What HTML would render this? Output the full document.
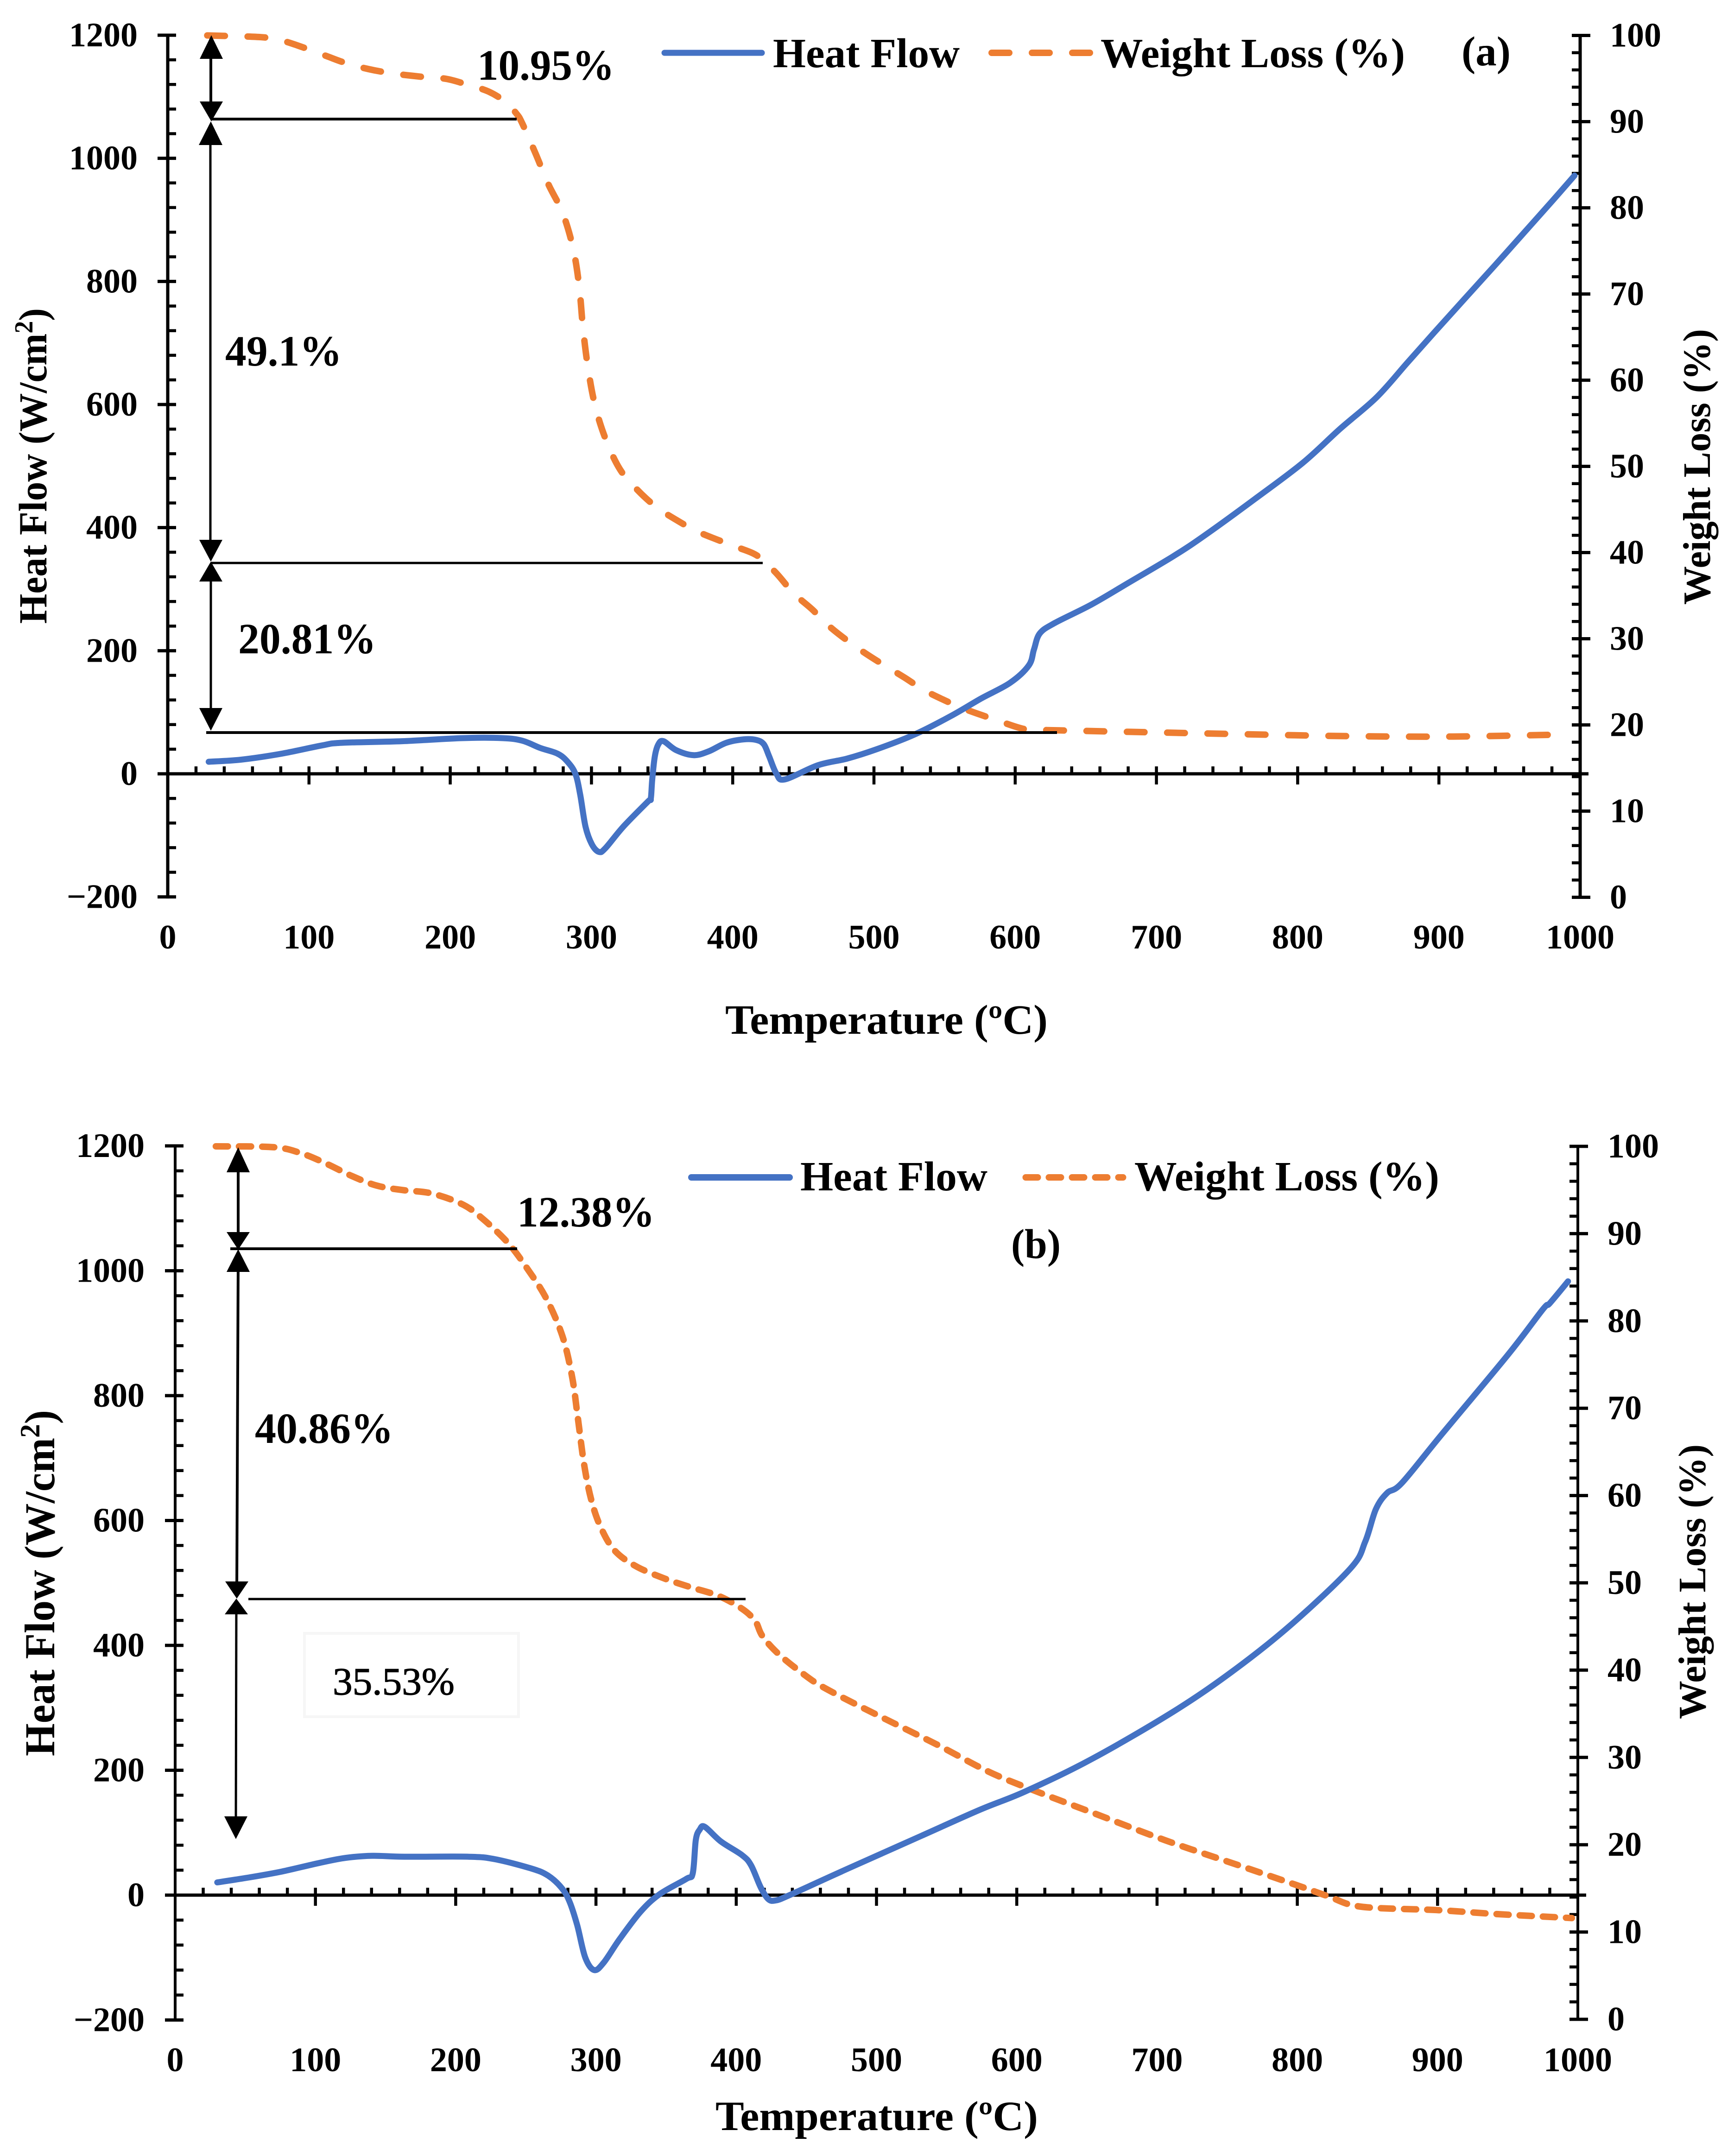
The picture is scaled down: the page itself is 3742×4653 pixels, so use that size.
<!DOCTYPE html>
<html lang="en">
<head>
<meta charset="utf-8">
<title>Heat Flow and Weight Loss vs Temperature</title>
<style>
  html, body { margin: 0; padding: 0; background: #ffffff; }
  svg { display: block; }
  text { font-family: "Liberation Serif", "Times New Roman", serif; font-weight: bold; fill: #000; }
  .tick { font-size: 74px; }
  .lbl { font-size: 90px; }
  .pct { font-size: 93px; }
</style>
</head>
<body>
<svg id="figure" xmlns="http://www.w3.org/2000/svg" width="3742" height="4653" viewBox="0 0 3742 4653">
  <rect x="0" y="0" width="3742" height="4653" fill="#ffffff"/>

  <g id="panel-a">
    <g id="axes-a"></g>
    <g id="series-a"></g>

    <g stroke="#000" stroke-width="6">
      <line x1="455" y1="100" x2="455" y2="240"/>
      <polygon points="456,76 431,127 481,127" stroke="none"/>
      <polygon points="456,262 431,219 481,219" stroke="none"/>
      <line x1="456" y1="257" x2="1115" y2="257"/>
      <line x1="454" y1="290" x2="454" y2="1190" stroke-width="5"/>
      <polygon points="455,262 429,313 480,313" stroke="none"/>
      <polygon points="455,1212 430,1165 480,1165" stroke="none"/>
      <line x1="455" y1="1215" x2="1646" y2="1215" stroke-width="5"/>
      <line x1="455" y1="1240" x2="455" y2="1540" stroke-width="5"/>
      <polygon points="455,1212 430,1255 480,1255" stroke="none"/>
      <polygon points="455,1577 430,1528 480,1528" stroke="none"/>
      <line x1="445" y1="1581" x2="2281" y2="1581"/>
    </g>

    <text class="pct" x="1030" y="172" textLength="296" lengthAdjust="spacingAndGlyphs">10.95%</text>
    <text class="pct" x="486" y="789" textLength="252" lengthAdjust="spacingAndGlyphs">49.1%</text>
    <text class="pct" x="514" y="1410" textLength="298" lengthAdjust="spacingAndGlyphs">20.81%</text>

    <g>
      <line x1="1434" y1="114" x2="1644" y2="114" stroke="#4472c4" stroke-width="13" stroke-linecap="round"/>
      <text class="lbl" x="1668" y="145" textLength="403" lengthAdjust="spacingAndGlyphs">Heat Flow</text>
      <line x1="2140" y1="114" x2="2352" y2="114" stroke="#ed7d31" stroke-width="14" stroke-linecap="round" stroke-dasharray="38 49"/>
      <text class="lbl" x="2375" y="145" textLength="657" lengthAdjust="spacingAndGlyphs">Weight Loss (%)</text>
    </g>
    <text class="lbl" x="3154" y="141" textLength="106" lengthAdjust="spacingAndGlyphs">(a)</text>

    <text class="lbl" x="1565" y="2231" textLength="696" lengthAdjust="spacingAndGlyphs">Temperature (ºC)</text>
    <text class="lbl" transform="translate(100,1346) rotate(-90)" style="font-size:86px" textLength="681" lengthAdjust="spacingAndGlyphs">Heat Flow (W/cm<tspan dy="-30" style="font-size:56px">2</tspan><tspan dy="30">)</tspan></text>
    <text class="lbl" transform="translate(3690,1305) rotate(-90)" style="font-size:84px" textLength="595" lengthAdjust="spacingAndGlyphs">Weight Loss (%)</text>
  </g>

  <g id="panel-b">
    <g id="axes-b"></g>
    <g id="series-b"></g>

    <g stroke="#000" stroke-width="6">
      <line x1="514" y1="2500" x2="514" y2="2680"/>
      <polygon points="514,2476 489,2530 539,2530" stroke="none"/>
      <polygon points="514,2697 489,2659 539,2659" stroke="none"/>
      <line x1="497" y1="2695" x2="1116" y2="2695"/>
      <line x1="514" y1="2720" x2="511" y2="3430"/>
      <polygon points="514,2696 489,2745 539,2745" stroke="none"/>
      <polygon points="511,3450 486,3413 536,3413" stroke="none"/>
      <line x1="536" y1="3451" x2="1609" y2="3451" stroke-width="5"/>
      <line x1="510" y1="3470" x2="509" y2="3930" stroke-width="5"/>
      <polygon points="510,3450 485,3484 535,3484" stroke="none"/>
      <polygon points="509,3969 484,3920 534,3920" stroke="none"/>
    </g>

    <rect x="657" y="3525" width="462" height="180" fill="none" stroke="#f6f6f6" stroke-width="6"/>
    <text x="718" y="3657" style="font-size:84px;font-weight:normal;stroke:#000;stroke-width:1.2px" textLength="263" lengthAdjust="spacingAndGlyphs">35.53%</text>
    <text class="pct" x="1116" y="2647" textLength="297" lengthAdjust="spacingAndGlyphs">12.38%</text>
    <text class="pct" x="550" y="3114" textLength="299" lengthAdjust="spacingAndGlyphs">40.86%</text>

    <g>
      <line x1="1492" y1="2541" x2="1704" y2="2541" stroke="#4472c4" stroke-width="14" stroke-linecap="round"/>
      <text class="lbl" x="1727" y="2569" textLength="404" lengthAdjust="spacingAndGlyphs">Heat Flow</text>
      <line x1="2213.5" y1="2541" x2="2423.5" y2="2541" stroke="#ed7d31" stroke-width="14" stroke-linecap="round" stroke-dasharray="26 24"/>
      <text class="lbl" x="2448" y="2569" textLength="658" lengthAdjust="spacingAndGlyphs">Weight Loss (%)</text>
    </g>
    <text class="lbl" x="2182" y="2715" textLength="107" lengthAdjust="spacingAndGlyphs">(b)</text>

    <text class="lbl" x="1544" y="4597" textLength="696" lengthAdjust="spacingAndGlyphs">Temperature (ºC)</text>
    <text class="lbl" transform="translate(117,3790) rotate(-90)" style="font-size:92px" textLength="747" lengthAdjust="spacingAndGlyphs">Heat Flow (W/cm<tspan dy="-32" style="font-size:60px">2</tspan><tspan dy="32">)</tspan></text>
    <text class="lbl" transform="translate(3680,3710) rotate(-90)" style="font-size:84px" textLength="593" lengthAdjust="spacingAndGlyphs">Weight Loss (%)</text>
  </g>
</svg>

<script>
// Tick labels
const tempTicks = [0, 100, 200, 300, 400, 500, 600, 700, 800, 900, 1000];
const heatTicks = [-200, 0, 200, 400, 600, 800, 1000, 1200];
const weightTicks = [0, 10, 20, 30, 40, 50, 60, 70, 80, 90, 100];

// Panel (a) heat flow
const heatTempA = [29, 52, 80.5, 109, 123, 166, 208.6, 237, 251, 263.7, 276, 283, 288.6, 292, 295.8, 300.4, 305.4, 310, 322.5, 340, 342, 343, 344.9, 347.4, 351, 360, 372.3, 383, 395.4, 407.9, 416.7, 422, 425.7, 431, 437, 460.4, 481, 502, 528.5, 554.6, 575.6, 596.5, 609.6, 613.3, 617.4, 628, 654, 680, 711.6, 734, 770, 803.5, 829.8, 856, 877.7, 896.7, 918.3, 939.6, 961, 980, 996];
const heatValA = [19.6, 23, 32.7, 46, 50.4, 53, 58, 58, 53.8, 42, 32.7, 19.7, 0, -33.5, -86, -115, -127, -120.5, -86, -45, -40.5, -9.5, 29, 48, 53, 38.4, 30.3, 36.5, 50.4, 56, 55, 48, 29, 0, -9, 14, 24.7, 40, 63.6, 94, 122, 148, 176, 202, 228, 245, 275, 310, 353, 387, 447, 505, 560, 612, 668, 717, 772, 826, 881, 930, 972];

// Panel (a) weight loss
const weightTempA = [28, 66, 81, 96, 112.5, 126, 142, 159, 180, 197, 212, 227, 239, 247, 251, 260.4, 269.6, 279.6, 287, 291.3, 293.9, 297.3, 302.2, 309.7, 320, 332.3, 345.8, 359.9, 374.2, 389, 403.5, 417.7, 430.3, 443, 456.3, 468, 481, 494, 507.5, 521.6, 534.8, 549.5, 565, 586, 607, 622.7, 680, 753.6, 837, 910, 993];
const weightValA = [100, 99.8, 99.4, 98.6, 97.6, 96.8, 96.1, 95.6, 95.2, 94.97, 94.3, 93.5, 92.3, 90.9, 89.8, 86.3, 82.7, 79.4, 75.3, 70.9, 66.2, 61.7, 57.3, 53.3, 49.7, 47.3, 45.3, 43.8, 42.5, 41.5, 40.6, 39.6, 37.7, 35.3, 33.4, 31.5, 29.8, 28.3, 26.9, 25.5, 24.1, 22.9, 21.8, 20.6, 19.5, 19.4, 19.2, 18.95, 18.7, 18.65, 18.9];

// Panel (b) heat flow
const heatTempB = [30, 53.4, 76, 102.7, 121.6, 140.6, 163.4, 209, 228, 254.4, 265.8, 275.3, 281, 286.6, 292.3, 298.7, 305.6, 317, 332, 345.4, 364.4, 369, 371.2, 374, 377.6, 389, 404.2, 410.6, 417.5, 423, 428, 436.5, 469.8, 484.6, 532, 574, 606, 653.5, 711, 753.5, 795.5, 837.8, 848.4, 856, 864, 874.5, 903, 950, 975, 980, 993];
const heatValB = [20.4, 28.6, 37.8, 51.5, 59.7, 63, 61.5, 61.5, 57.5, 42.3, 31.3, 12.2, -9.6, -47.8, -99.6, -120, -107.8, -70, -26, 1.5, 26, 35, 88.6, 105, 109.4, 86, 64, 47.7, 12.2, -6.7, -8.5, -1.5, 32.5, 47.5, 95, 137, 166, 218, 293, 358, 433, 523, 566, 618, 644, 660, 738, 865, 938, 948, 983];

// Panel (b) weight loss
const weightTempB = [29, 70.4, 90, 108, 126, 143.8, 161.8, 183, 205.5, 220.7, 237.5, 251, 264.5, 276, 283, 287, 291.4, 296.5, 303.3, 313.3, 328.5, 348.8, 367.4, 387.5, 404.4, 413.6, 418.7, 430.5, 450, 463.7, 495, 542.7, 579.5, 611, 653.5, 706, 759, 800.8, 822, 845.6, 901, 943, 995.7];
const weightValB = [100, 99.9, 99.2, 98, 96.6, 95.5, 95, 94.6, 93.3, 91.5, 88.9, 86, 82.6, 78.3, 73.6, 69, 63.7, 59.6, 56.4, 53.7, 51.9, 50.5, 49.5, 48.5, 47, 45.6, 43.9, 41.8, 39.3, 37.9, 35.3, 31.5, 28.4, 26.3, 23.7, 20.5, 17.6, 15.3, 14.1, 12.9, 12.5, 12.05, 11.6];

const NS = 'http://www.w3.org/2000/svg';

function linear(d0, d1, r0, r1) {
  return function (v) { return r0 + (v - d0) * (r1 - r0) / (d1 - d0); };
}

function make(parent, tag, name, props) {
  const el = document.createElementNS(NS, tag);
  
  
  for (const k in props) el.setAttribute(k, props[k]);
  parent.appendChild(el);
  return el;
}

function seg(parent, name, x1, y1, x2, y2, w) {
  return make(parent, 'line', name, { x1: x1, y1: y1, x2: x2, y2: y2, stroke: '#000', 'stroke-width': w });
}

function label(parent, name, str, x, y, anchor) {
  const t = make(parent, 'text', name, { x: x, y: y, 'text-anchor': anchor });
  t.setAttribute('class', 'tick');
  t.textContent = String(str).replace('-', '\u2212');
  return t;
}

// Smooth line through the data points (Catmull-Rom to cubic Bezier)
function smoothPath(xs, ys, xFn, yFn) {
  const p = xs.map(function (x, i) { return [xFn(x), yFn(ys[i])]; });
  let d = 'M' + p[0][0].toFixed(1) + ' ' + p[0][1].toFixed(1);
  for (let i = 0; i < p.length - 1; i++) {
    const a = p[Math.max(i - 1, 0)], b = p[i], c = p[i + 1], e = p[Math.min(i + 2, p.length - 1)];
    const c1x = b[0] + (c[0] - a[0]) / 6, c1y = b[1] + (c[1] - a[1]) / 6;
    const c2x = c[0] - (e[0] - b[0]) / 6, c2y = c[1] - (e[1] - b[1]) / 6;
    d += 'C' + c1x.toFixed(1) + ' ' + c1y.toFixed(1) + ' ' + c2x.toFixed(1) + ' ' + c2y.toFixed(1) + ' ' + c[0].toFixed(1) + ' ' + c[1].toFixed(1);
  }
  return d;
}

function drawAxes(g, o) {
  const x = o.x, h = o.h, w = o.w;
  const left = x(0), right = x(1000), zero = h(0);

  seg(g, 'left-axis-line', left, h(-200) + 3.5, left, h(1200) - 3.5, o.sw);
  seg(g, 'right-axis-line', right, w(0) + 3.5, right, w(100) - 3.5, o.sw);
  seg(g, 'x-axis-line', left, zero, right + 18, zero, 7);

  for (let i = 0; i < heatTicks.length; i++) {
    const v = heatTicks[i], y = h(v);
    seg(g, 'left-major-tick', left - 22, y, left + 18, y, 7);
    label(g, 'left-tick-label', v, o.leftLabelX, y + 24, 'end');
    if (i < heatTicks.length - 1) {
      for (let m = 1; m < 5; m++) {
        const ym = h(v + m * (heatTicks[i + 1] - v) / 5);
        seg(g, 'left-minor-tick', left, ym, left + 18, ym, 6.5);
      }
    }
  }

  for (let i = 0; i < weightTicks.length; i++) {
    const v = weightTicks[i], y = w(v);
    seg(g, 'right-major-tick', right - 18, y, right + 22, y, 7);
    label(g, 'right-tick-label', v, o.rightLabelX, y + 24, 'start');
    if (i < weightTicks.length - 1) {
      for (let m = 1; m < 5; m++) {
        const ym = w(v + m * (weightTicks[i + 1] - v) / 5);
        seg(g, 'right-minor-tick', right - 18, ym, right, ym, 6.5);
      }
    }
  }

  for (let i = 0; i < tempTicks.length; i++) {
    const v = tempTicks[i], px = x(v);
    if (i > 0 && i < tempTicks.length - 1) seg(g, 'x-major-tick', px, zero - 16, px, zero + 23, 6.5);
    label(g, 'x-tick-label', v, px, o.xLabelY, 'middle');
    if (i < tempTicks.length - 1) {
      for (let m = 1; m < 5; m++) {
        const pm = x(v + m * (tempTicks[i + 1] - v) / 5);
        seg(g, 'x-minor-tick', pm, zero - 16, pm, zero, 6.5);
      }
    }
  }
}

function drawSeries(g, o) {
  make(g, 'path', 'weight-loss-line', {
    d: smoothPath(o.wt, o.wv, o.x, o.w), fill: 'none', stroke: '#ed7d31', 'stroke-width': 14,
    'stroke-linecap': 'round', 'stroke-linejoin': 'round', 'stroke-dasharray': o.dash
  });
  make(g, 'path', 'heat-flow-line', {
    d: smoothPath(o.ht, o.hv, o.x, o.h), fill: 'none', stroke: '#4472c4', 'stroke-width': 13,
    'stroke-linecap': 'round', 'stroke-linejoin': 'round'
  });
}

const xA = linear(0, 1000, 362, 3410);
const hA = linear(0, 1200, 1670, 76);
const wA = linear(0, 100, 1936.5, 76.5);
const xB = linear(0, 1000, 378, 3405);
const hB = linear(0, 1200, 4090, 2473);
const wB = linear(0, 100, 4358, 2474);

drawAxes(document.getElementById('axes-a'), { x: xA, h: hA, w: wA, sw: 7, leftLabelX: 297, rightLabelX: 3474, xLabelY: 2047 });
drawAxes(document.getElementById('axes-b'), { x: xB, h: hB, w: wB, sw: 6, leftLabelX: 312, rightLabelX: 3469, xLabelY: 4470 });
drawSeries(document.getElementById('series-a'), { x: xA, h: hA, w: wA, ht: heatTempA, hv: heatValA, wt: weightTempA, wv: weightValA, dash: '38 49' });
drawSeries(document.getElementById('series-b'), { x: xB, h: hB, w: wB, ht: heatTempB, hv: heatValB, wt: weightTempB, wv: weightValB, dash: '26 24' });
</script>
</body>
</html>
